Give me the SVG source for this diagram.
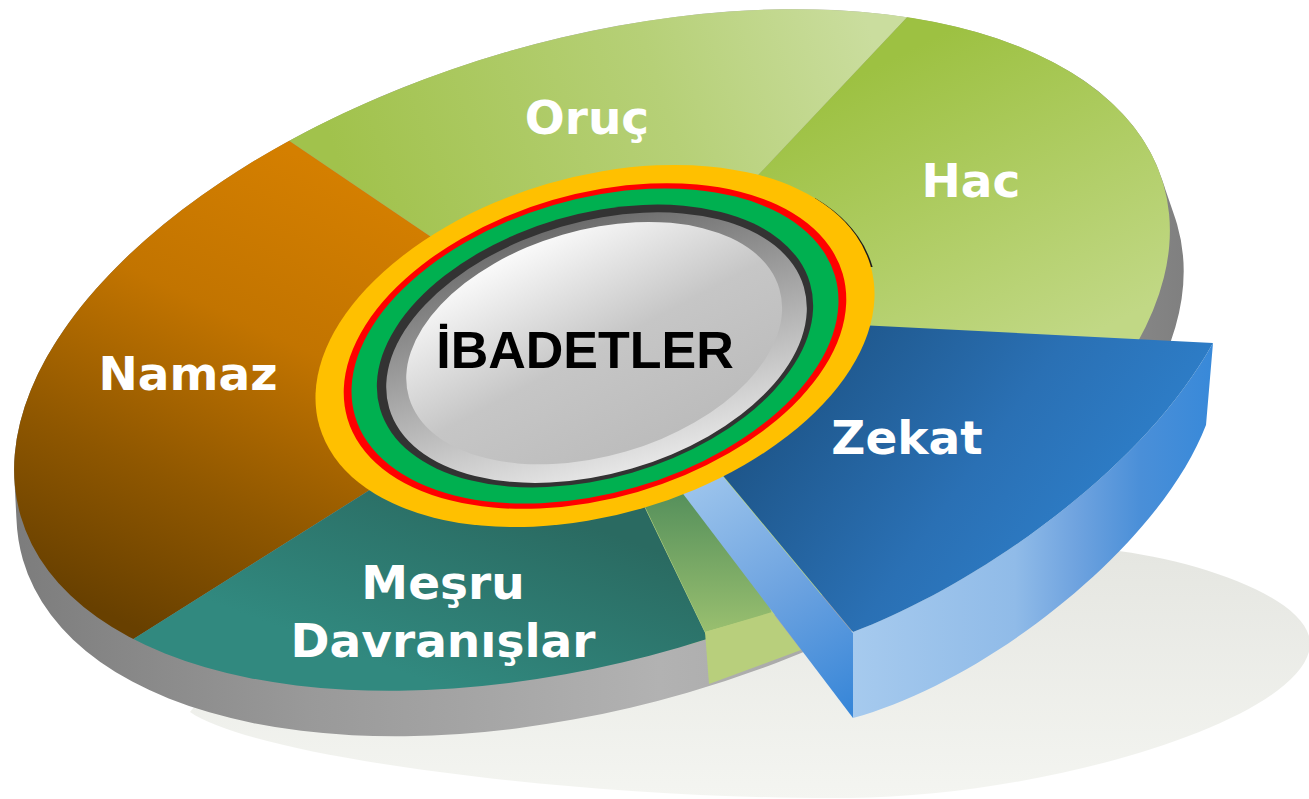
<svg xmlns="http://www.w3.org/2000/svg" width="1309" height="799" viewBox="0 0 1309 799">
  <style>
    .lbl { font-family: "DejaVu Sans", Verdana, sans-serif; font-weight: bold; font-size: 47px; fill: #ffffff; text-anchor: middle; }
    .hubtxt { font-family: "Liberation Sans", Arial, sans-serif; font-weight: bold; font-size: 52px; fill: #000000; text-anchor: middle; }
  </style>
  <defs>
    <linearGradient id="shadowGrad" gradientUnits="userSpaceOnUse" x1="0" y1="550" x2="0" y2="800">
      <stop offset="0" stop-color="#e5e6e1"/>
      <stop offset="1" stop-color="#f4f5f1"/>
    </linearGradient>
    <linearGradient id="sideGrad" gradientUnits="userSpaceOnUse" x1="12" y1="0" x2="1190" y2="0">
      <stop offset="0" stop-color="#7c7c7c"/>
      <stop offset="0.25" stop-color="#999999"/>
      <stop offset="0.55" stop-color="#b2b2b2"/>
      <stop offset="0.75" stop-color="#a4a4a4"/>
      <stop offset="1" stop-color="#7f7f7f"/>
    </linearGradient>
    <linearGradient id="namazGrad" gradientUnits="userSpaceOnUse" x1="330" y1="170" x2="120" y2="620">
      <stop offset="0" stop-color="#d47f00"/>
      <stop offset="0.35" stop-color="#c27400"/>
      <stop offset="0.7" stop-color="#8f5700"/>
      <stop offset="1" stop-color="#684000"/>
    </linearGradient>
    <linearGradient id="orucGrad" gradientUnits="userSpaceOnUse" x1="360" y1="230" x2="880" y2="60">
      <stop offset="0" stop-color="#a1c24c"/>
      <stop offset="0.6" stop-color="#b6d077"/>
      <stop offset="1" stop-color="#cadd9e"/>
    </linearGradient>
    <linearGradient id="hacGrad" gradientUnits="userSpaceOnUse" x1="950" y1="30" x2="1100" y2="330">
      <stop offset="0" stop-color="#9dc142"/>
      <stop offset="1" stop-color="#c1d885"/>
    </linearGradient>
    <linearGradient id="tealGrad" gradientUnits="userSpaceOnUse" x1="520" y1="500" x2="450" y2="690">
      <stop offset="0" stop-color="#2a6a61"/>
      <stop offset="1" stop-color="#31897f"/>
    </linearGradient>
    <linearGradient id="sliverGrad" gradientUnits="userSpaceOnUse" x1="0" y1="490" x2="0" y2="632">
      <stop offset="0" stop-color="#548f5b"/>
      <stop offset="1" stop-color="#99bf6f"/>
    </linearGradient>
    <linearGradient id="zTopGrad" gradientUnits="userSpaceOnUse" x1="830" y1="330" x2="1150" y2="560">
      <stop offset="0" stop-color="#1e568a"/>
      <stop offset="0.5" stop-color="#2a70b4"/>
      <stop offset="1" stop-color="#2f83d0"/>
    </linearGradient>
    <linearGradient id="zFrontGrad" gradientUnits="userSpaceOnUse" x1="853" y1="0" x2="1213" y2="0">
      <stop offset="0" stop-color="#a6caee"/>
      <stop offset="0.45" stop-color="#90bbe8"/>
      <stop offset="0.62" stop-color="#6fa3df"/>
      <stop offset="0.8" stop-color="#4a8fd8"/>
      <stop offset="1" stop-color="#3889d9"/>
    </linearGradient>
    <linearGradient id="zLeftGrad" gradientUnits="userSpaceOnUse" x1="700" y1="480" x2="845" y2="715">
      <stop offset="0" stop-color="#9cc4ec"/>
      <stop offset="0.5" stop-color="#6da3e0"/>
      <stop offset="1" stop-color="#3786d8"/>
    </linearGradient>
    <linearGradient id="bevelGrad" x1="0" y1="0" x2="0" y2="1">
      <stop offset="0" stop-color="#6c6c6c"/>
      <stop offset="0.5" stop-color="#a9a9a9"/>
      <stop offset="1" stop-color="#e6e6e6"/>
    </linearGradient>
    <linearGradient id="faceGrad" x1="0.25" y1="0" x2="0.6" y2="1">
      <stop offset="0" stop-color="#ffffff"/>
      <stop offset="0.55" stop-color="#c6c6c6"/>
      <stop offset="1" stop-color="#bcbcbc"/>
    </linearGradient>
    <clipPath id="topClip">
      <ellipse cx="0" cy="0" rx="595" ry="310" transform="translate(592,350) rotate(-16.2)"/>
    </clipPath>
    <clipPath id="sideClip">
      <ellipse cx="0" cy="0" rx="595" ry="310" transform="translate(592,350) rotate(-16.2)"/>
      <ellipse cx="0" cy="0" rx="595" ry="310" transform="translate(593,355.25) rotate(-16.2) scale(1.00125)"/>
      <ellipse cx="0" cy="0" rx="595" ry="310" transform="translate(594,360.5) rotate(-16.2) scale(1.0025)"/>
      <ellipse cx="0" cy="0" rx="595" ry="310" transform="translate(595,365.75) rotate(-16.2) scale(1.00375)"/>
      <ellipse cx="0" cy="0" rx="595" ry="310" transform="translate(596,371) rotate(-16.2) scale(1.005)"/>
      <ellipse cx="0" cy="0" rx="595" ry="310" transform="translate(597,376.25) rotate(-16.2) scale(1.00625)"/>
      <ellipse cx="0" cy="0" rx="595" ry="310" transform="translate(598,381.5) rotate(-16.2) scale(1.0075)"/>
      <ellipse cx="0" cy="0" rx="595" ry="310" transform="translate(599,386.75) rotate(-16.2) scale(1.00875)"/>
      <ellipse cx="0" cy="0" rx="595" ry="310" transform="translate(600,392) rotate(-16.2) scale(1.01)"/>
    </clipPath>
    <clipPath id="hubShadowClip">
      <rect x="815" y="192" width="70" height="75"/>
    </clipPath>
  </defs>

  <rect x="0" y="0" width="1309" height="799" fill="#ffffff"/>

  <!-- floor shadow -->
  <path id="floor-shadow" d="M190,712 C260,760 600,800 850,798 C1050,796 1300,720 1310,647 C1315,600 1200,560 1110,550 C900,520 300,560 190,712 Z" fill="url(#shadowGrad)"/>

  <!-- pie thickness -->
  <rect id="pie-side" x="0" y="0" width="1309" height="799" fill="url(#sideGrad)" clip-path="url(#sideClip)"/>

  <!-- top surface slices -->
  <g clip-path="url(#topClip)">
    <g id="slice-oruc">
      <polygon points="595,348 -19,-68 -19,-400 1229,-400 1229,-324" fill="url(#orucGrad)"/>
    </g>
    <g id="slice-hac">
      <polygon points="595,348 1229,-324 1600,-400 1600,1000 800,1000" fill="url(#hacGrad)"/>
    </g>
    <g id="slice-namaz">
      <polygon points="595,348 -19,-68 -400,-68 -400,928 -325,928" fill="url(#namazGrad)"/>
    </g>
    <g id="slice-mesru">
      <polygon points="595,348 -325,928 847,928 568,348" fill="url(#tealGrad)"/>
    </g>
  </g>

  <!-- exposed inner wall where Zekat was pulled out -->
  <g id="gap-wall">
    <polygon points="613,440 705,632 772,613 700,440" fill="url(#sliverGrad)"/>
    <polygon points="705,632 709,684 801,650 772,612" fill="#b8cf7c"/>
  </g>

  <!-- exploded Zekat slice -->
  <g id="slice-zekat">
    <polygon points="665,470 705,455 853,633 853,718" fill="url(#zLeftGrad)"/>
    <path d="M853,632 C970,588 1140,475 1213,343 L1206,425 C1160,545 990,680 853,718 Z" fill="url(#zFrontGrad)"/>
    <path d="M800,322 L1213,343 C1140,475 970,588 853,632 L700,448 Z" fill="url(#zTopGrad)"/>
  </g>

  <!-- central hub -->
  <g id="hub">
    <g clip-path="url(#hubShadowClip)">
      <ellipse cx="0" cy="0" rx="287" ry="169" transform="translate(597,347) rotate(-16.3)" fill="#1c1c1c"/>
    </g>
    <g transform="translate(595,346) rotate(-16.3)">
      <ellipse cx="0" cy="0" rx="287" ry="169" fill="#ffc000"/>
      <ellipse cx="0" cy="0" rx="258" ry="152" fill="#ff0000"/>
      <ellipse cx="0" cy="0" rx="250" ry="147" fill="#00b050"/>
      <ellipse cx="0" cy="0" rx="224" ry="132" fill="#333333"/>
      <ellipse cx="1" cy="2" rx="216" ry="126" fill="url(#bevelGrad)"/>
      <ellipse cx="0" cy="-3" rx="193" ry="113" fill="url(#faceGrad)"/>
    </g>
    <text class="hubtxt" x="585" y="368">İBADETLER</text>
  </g>

  <!-- labels -->
  <text class="lbl" x="587" y="134">Oruç</text>
  <text class="lbl" x="971" y="197">Hac</text>
  <text class="lbl" x="188" y="390">Namaz</text>
  <text class="lbl" x="907" y="454">Zekat</text>
  <text class="lbl" x="443" y="599">Meşru</text>
  <text class="lbl" x="443" y="657">Davranışlar</text>
</svg>
